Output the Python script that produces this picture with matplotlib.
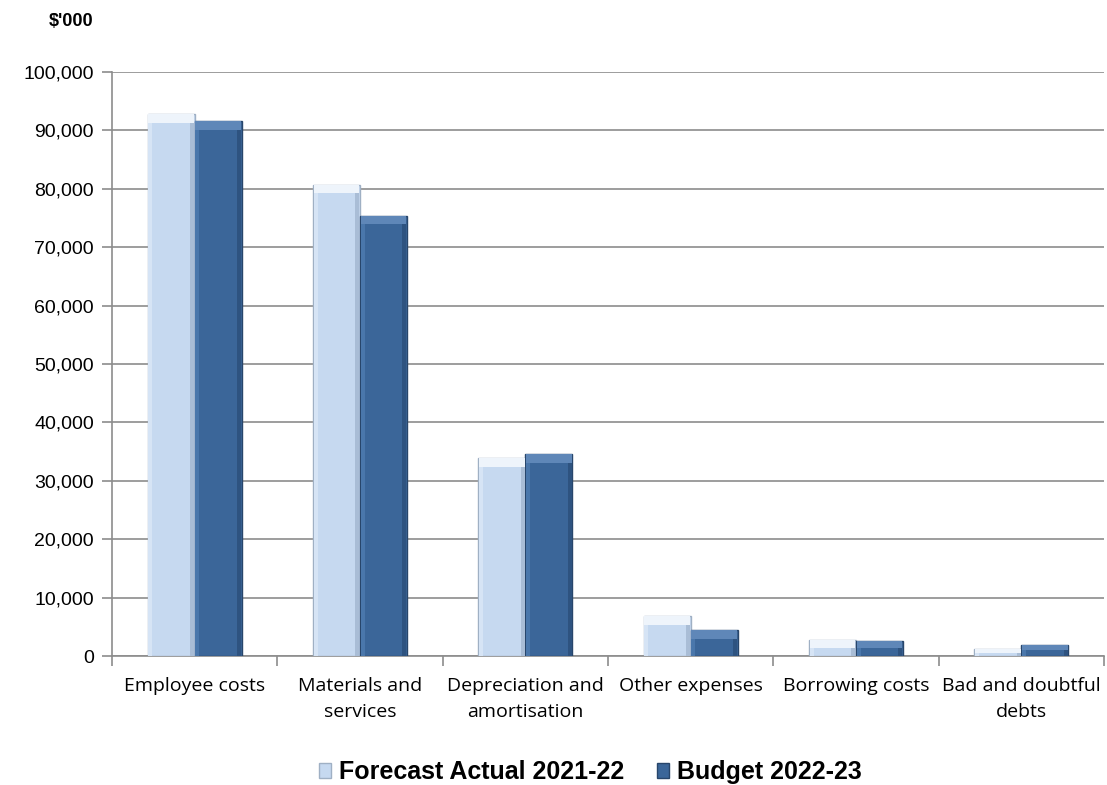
import numpy as np
import matplotlib.pyplot as plt
from matplotlib.ticker import FuncFormatter, MultipleLocator
from matplotlib.patches import Patch

categories = ["Employee costs", "Materials and\nservices", "Depreciation and\namortisation",
              "Other expenses", "Borrowing costs", "Bad and doubtful\ndebts"]
forecast = [92800, 80700, 33900, 6850, 2700, 1200]
budget = [91600, 75400, 34600, 4400, 2600, 1900]
series_names = ["Forecast Actual 2021-22", "Budget 2022-23"]

c_fore = "#c6d9f0"
c_bud = "#3b6699"

fig = plt.figure(figsize=(11.07, 7.85), dpi=100)
ax = fig.add_axes([0.1012, 0.1643, 0.8961, 0.744])

x = np.arange(len(categories))
w = 0.285
sw = 0.025  # bevel strip width


def bevel_bars(xpos, vals, color, edge, light, side_l, side_r):
    vals = np.array(vals, dtype=float)
    ax.bar(xpos, vals, w, color=color, edgecolor=edge, linewidth=1.0, zorder=3)
    cap = np.minimum(vals * 0.5, 1500)
    # side shading
    ax.bar(xpos - w / 2 + sw / 2 + 0.004, vals - cap, sw, color=side_l, linewidth=0, zorder=4)
    ax.bar(xpos + w / 2 - sw / 2 - 0.004, vals - cap, sw, color=side_r, linewidth=0, zorder=4)
    # top highlight
    ax.bar(xpos, cap, w - 0.008, bottom=vals - cap, color=light, linewidth=0, zorder=4)


bevel_bars(x - w / 2, forecast, c_fore, "#9fb0c4", "#eef4fb", "#d6e4f5", "#a9bdd6")
bevel_bars(x + w / 2, budget, c_bud, "#28466b", "#5f87b8", "#4a77ab", "#2e5380")

ax.set_xlim(-0.5, len(categories) - 0.5)
ax.set_ylim(0, 100000)
ax.yaxis.set_major_locator(MultipleLocator(10000))
ax.yaxis.set_major_formatter(FuncFormatter(lambda v, p: f"{int(v):,}"))
ax.grid(axis="y", color="#8c8c8c", linewidth=1.2, zorder=0)
ax.set_axisbelow(True)

for s in ["top", "right"]:
    ax.spines[s].set_visible(False)
for s in ["left", "bottom"]:
    ax.spines[s].set_color("#8c8c8c")
    ax.spines[s].set_linewidth(1.2)

ax.set_xticks(x)
ax.set_xticklabels(categories, fontsize=14, family="Open Sans", linespacing=1.55)
ax.tick_params(axis="x", length=0, pad=15)
ax.set_xticks(np.arange(len(categories) + 1) - 0.5, minor=True)
ax.tick_params(axis="x", which="minor", length=7, color="#8c8c8c", width=1.2)
ax.tick_params(axis="y", length=7, color="#8c8c8c", width=1.2, labelsize=14, pad=6)
for lab in ax.get_yticklabels():
    lab.set_family("Liberation Sans")

fig.text(0.064, 0.972, "$'000", fontsize=13, fontweight="bold",
         family="Liberation Sans", ha="center", va="center")

handles = [Patch(facecolor=c_fore, edgecolor="#9fb0c4"),
           Patch(facecolor=c_bud, edgecolor="#28466b")]
fig.legend(handles, series_names, loc="center", bbox_to_anchor=(0.533, 0.016),
           ncol=2, frameon=False, prop={"family": "Liberation Sans", "weight": "bold", "size": 18},
           handlelength=0.5, handleheight=0.5, handletextpad=0.3, columnspacing=1.3)

fig.savefig("out.png", dpi=100)
